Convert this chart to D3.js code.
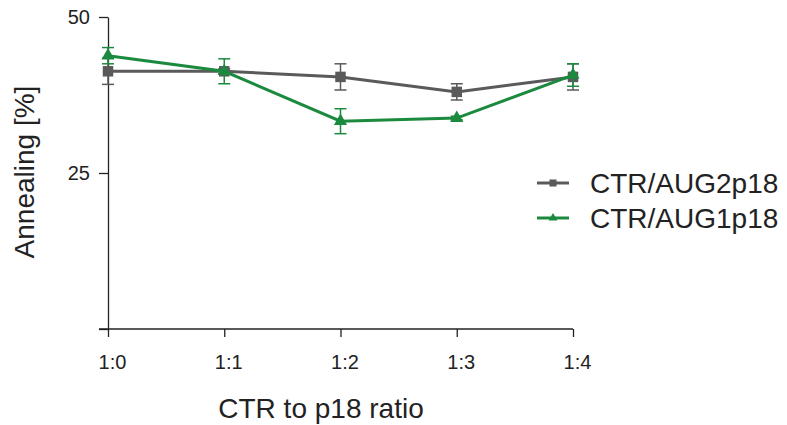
<!DOCTYPE html>
<html lang="en">
<head>
<meta charset="UTF-8" />
<title>Annealing vs CTR to p18 ratio</title>
<script src="https://d3js.org/d3.v7.min.js"></script>
<style>
  body { margin: 0; background: #fff; }
  text { font-family: Arial, "Liberation Sans", Helvetica, sans-serif; fill: #222; }
  .tick text { font-size: 20px !important; fill: #222 !important; }
</style>
</head>
<body>
<div id="chart"></div>
<script>
// ----------- Data ----------- //
var ratios = ["1:0", "1:1", "1:2", "1:3", "1:4"];
var aug2Mean = [41.3, 41.3, 40.4, 38.0, 40.4];
var aug2Err  = [2.1, 0.4, 2.1, 1.3, 2.1];
var aug1Mean = [43.8, 41.3, 33.3, 33.8, 40.7];
var aug1Err  = [1.3, 2.0, 2.0, 0.3, 1.8];
var yTicks = [0, 25, 50];

var seriesNames = ["CTR/AUG2p18", "CTR/AUG1p18"];
var seriesColors = ["#5a5a5a", "#1b8a3e"];

// ----------- Layout ----------- //
var width = 787, height = 425;
var svg = d3.select("#chart").append("svg")
  .attr("width", width)
  .attr("height", height);

var x = d3.scalePoint().domain(ratios).range([108, 573]);
var y = d3.scaleLinear().domain([0, 50]).range([329, 17]);

// ----------- Axes ----------- //
var axisColor = "#222";

var yAxis = svg.append("g")
  .attr("transform", "translate(108,0)")
  .call(d3.axisLeft(y).tickValues(yTicks).tickSize(9).tickPadding(9).tickSizeOuter(0));
yAxis.attr("font-size", 20);
yAxis.select(".domain").attr("stroke", axisColor).attr("stroke-width", 1.3);
yAxis.selectAll(".tick line").attr("stroke", axisColor).attr("stroke-width", 1.3);
yAxis.selectAll(".tick text").attr("font-size", 20);
yAxis.selectAll(".tick").filter(d => d === 0).select("text").remove();

var xAxis = svg.append("g")
  .attr("transform", "translate(0,329)")
  .call(d3.axisBottom(x).tickSize(8).tickPadding(18).tickSizeOuter(0));
xAxis.attr("font-size", 20);
xAxis.select(".domain").attr("d", "M99,0H" + x("1:4"))
  .attr("stroke", axisColor).attr("stroke-width", 1.3);
xAxis.selectAll(".tick line").attr("stroke", axisColor).attr("stroke-width", 1.3);
xAxis.selectAll(".tick text").attr("font-size", 20).attr("dx", 4);

svg.append("text")
  .attr("x", 321)
  .attr("y", 418)
  .attr("text-anchor", "middle")
  .style("font-size", "28px")
  .text("CTR to p18 ratio");

svg.append("text")
  .attr("transform", "translate(34,172) rotate(-90)")
  .attr("text-anchor", "middle")
  .style("font-size", "28px")
  .text("Annealing [%]");

// ----------- Series ----------- //
var series = [
  { name: seriesNames[0], mean: aug2Mean, err: aug2Err, color: seriesColors[0], shape: d3.symbolSquare, size: 110 },
  { name: seriesNames[1], mean: aug1Mean, err: aug1Err, color: seriesColors[1], shape: d3.symbolTriangle, size: 75 }
];

var line = d3.line().x(d => x(d.r)).y(d => y(d.v));

series.forEach(function(s) {
  var pts = ratios.map((r, i) => ({ r: r, v: s.mean[i], e: s.err[i] }));
  var g = svg.append("g");

  // error bars
  var eb = g.selectAll(".err").data(pts).enter().append("g");
  eb.append("line")
    .attr("x1", d => x(d.r)).attr("x2", d => x(d.r))
    .attr("y1", d => y(d.v + d.e)).attr("y2", d => y(d.v - d.e))
    .attr("stroke", s.color).attr("stroke-width", 1.5);
  [1, -1].forEach(function(sign) {
    eb.append("line")
      .attr("x1", d => x(d.r) - 6).attr("x2", d => x(d.r) + 6)
      .attr("y1", d => y(d.v + sign * d.e)).attr("y2", d => y(d.v + sign * d.e))
      .attr("stroke", s.color).attr("stroke-width", 1.5);
  });

  g.append("path")
    .datum(pts)
    .attr("d", line)
    .attr("fill", "none")
    .attr("stroke", s.color)
    .attr("stroke-width", 3);

  g.selectAll(".pt").data(pts).enter().append("path")
    .attr("d", d3.symbol().type(s.shape).size(s.size))
    .attr("transform", d => "translate(" + x(d.r) + "," + y(d.v) + ")")
    .attr("fill", s.color);
});

// ----------- Legend ----------- //
var legend = svg.append("g");
series.forEach(function(s, i) {
  var ly = 183 + i * 35;
  legend.append("line")
    .attr("x1", 537).attr("x2", 569)
    .attr("y1", ly).attr("y2", ly)
    .attr("stroke", s.color).attr("stroke-width", 3);
  legend.append("path")
    .attr("d", d3.symbol().type(s.shape).size(s.size * 0.45))
    .attr("transform", "translate(553," + ly + ")")
    .attr("fill", s.color);
  legend.append("text")
    .attr("x", 590)
    .attr("y", ly + 10)
    .style("font-size", "28px")
    .text(s.name);
});
</script>
</body>
</html>
